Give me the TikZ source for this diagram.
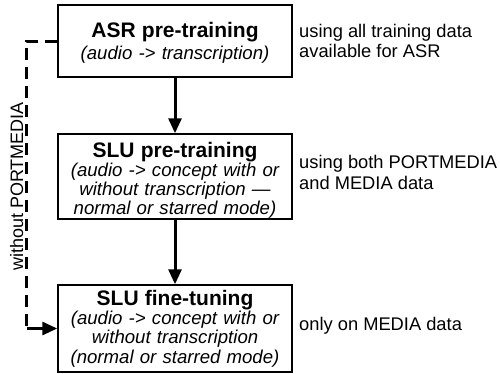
\documentclass[tikz,border=0pt]{standalone}
\usepackage{fontspec}
\setmainfont{Liberation Sans}
\usetikzlibrary{arrows.meta}
\newcommand\titlefnt{\fontsize{21}{19.3}\selectfont\bfseries\upshape}
\newcommand\bxstrut[1]{\rule{0pt}{#1pt}}
\tikzset{
  stagebox/.style={draw=black, line width=1.5pt, minimum width=234pt, inner xsep=2pt, inner ysep=0pt,
    text width=228pt, align=center, font=\fontsize{18.6}{19.3}\selectfont\itshape},
  note/.style={inner sep=0pt, align=left, anchor=west, font=\fontsize{18.3}{20.3}\selectfont},
  flow/.style={line width=3pt, -{Triangle[length=15pt,width=13pt]}},
  dashflow/.style={line width=3pt, dash pattern=on 12pt off 7pt},
}
\begin{document}
\begin{tikzpicture}[x=1pt,y=-1pt]
\useasboundingbox (0,0) rectangle (500,373);
\node[stagebox, minimum height=72pt] (asr) at (175,41)
  {\bxstrut{18.9}{\titlefnt ASR pre-training}\\[2.3pt](audio -> transcription)};
\node[stagebox, minimum height=85pt] (slupre) at (175,176.5)
  {\bxstrut{22.9}{\titlefnt SLU pre-training}\\(audio -> concept with or\\without transcription —\\normal or starred mode)};
\node[stagebox, minimum height=87pt] (slufine) at (175,328.5)
  {{\titlefnt SLU fine-tuning}\\(audio -> concept with or\\without transcription\\(normal or starred mode)};
\node[note] (n1) at (299,41.25) {using all training data\\available for ASR};
\node[note] (n2) at (299,172.4) {using both PORTMEDIA\\and MEDIA data};
\node[note] (n3) at (299,325.4) {only on MEDIA data};
\coordinate (c1) at (26.7,41);
\coordinate (c2) at (26.7,328.5);
\draw[flow] (asr.south) -- (slupre.north);
\draw[flow] (slupre.south) -- (slufine.north);
\draw[dashflow] (asr.west) -- (c1) -- (c2);
\draw[flow] (c2) -- (slufine.west);
\node[inner sep=0pt, rotate=90, font=\fontsize{18}{20}\selectfont] (lbl) at (16.8,186.5) {without PORTMEDIA};
\end{tikzpicture}
\end{document}
